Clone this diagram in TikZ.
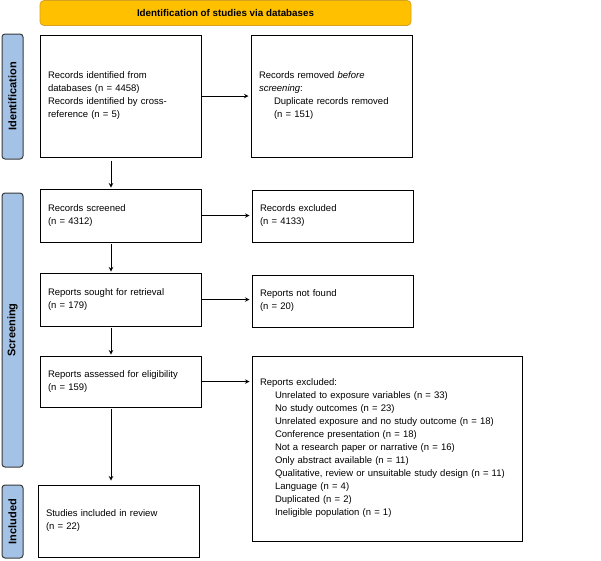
\documentclass[tikz,border=0pt]{standalone}
\usepackage{fontspec}
\setmainfont{Liberation Sans}
\usepackage{tikz}
\usetikzlibrary{arrows, positioning}
\tikzset{>=stealth}
\definecolor{bannerfill}{HTML}{FFC000}
\definecolor{bannerline}{HTML}{D6A21E}
\definecolor{phasefill}{HTML}{A4C2E6}
\definecolor{phaseline}{HTML}{3A3A3A}
\tikzset{
  flowbox/.style={draw=black, line width=1pt, fill=white, inner xsep=8pt, inner ysep=2pt,
    text width=145pt, minimum width=161pt, align=left, font=\fontsize{9.5}{13}\selectfont},
  phase/.style={draw=phaseline, fill=phasefill, rounded corners=3pt, line width=1pt,
    rotate=90, minimum height=21pt, inner sep=0pt, font=\bfseries\fontsize{11}{12}\selectfont},
  banner/.style={draw=bannerline, fill=bannerfill, rounded corners=4pt, line width=0.8pt,
    minimum width=371pt, minimum height=25pt, font=\bfseries\fontsize{9.8}{11}\selectfont},
  flowarrow/.style={->, line width=1pt}
}
\begin{document}
\begin{tikzpicture}[x=1pt, y=-1pt]
			\useasboundingbox (0,0) rectangle (601,560);
			\node[banner] (head) at (225.5,13) {Identification of studies via databases};
			% phases on the left
			\node[phase, minimum width=125pt] (idlab) at (12.5,96.5) {Identification};
			\node[phase, minimum width=274pt] (scrlab) at (12.5,330) {Screening};
			\node[phase, minimum width=73pt] (inclab) at (12.5,521.5) {Included};
			% main column
			\node[flowbox, minimum height=122pt] (ident) at (120.5,96) {Records identified from databases (n = 4458)\\Records identified by cross-reference (n = 5)};
			\node[flowbox, minimum height=53pt] (screened) at (120.5,215.5) {Records screened\\(n = 4312)};
			\node[flowbox, minimum height=53pt] (sought) at (120.5,299.5) {Reports sought for retrieval\\(n = 179)};
			\node[flowbox, minimum height=51pt] (assessed) at (120.5,381.5) {Reports assessed for eligibility\\(n = 159)};
			\node[flowbox, minimum height=72pt] (included) at (118.5,521) {Studies included in review\\(n = 22)};
			% right column
			\node[flowbox, minimum height=122pt] (removed) at (331.5,96) {Records removed \emph{before}\\\emph{screening}:\\\hspace*{15pt}Duplicate records removed\\\hspace*{15pt}(n = 151)};
			\node[flowbox, minimum height=52pt] (excluded) at (332.5,216) {Records excluded\\(n = 4133)};
			\node[flowbox, minimum height=52pt] (notfound) at (332.5,301) {Reports not found\\(n = 20)};
			\node[flowbox, minimum height=185pt, text width=254pt, minimum width=270pt] (repexcl) at (387,448.5) {Reports excluded:\\
				\hspace*{15pt}Unrelated to exposure variables (n = 33)\\
				\hspace*{15pt}No study outcomes (n = 23)\\
				\hspace*{15pt}Unrelated exposure and no study outcome (n = 18)\\
				\hspace*{15pt}Conference presentation (n = 18)\\
				\hspace*{15pt}Not a research paper or narrative (n = 16)\\
				\hspace*{15pt}Only abstract available (n = 11)\\
				\hspace*{15pt}Qualitative, review or unsuitable study design (n = 11)\\
				\hspace*{15pt}Language (n = 4)\\
				\hspace*{15pt}Duplicated (n = 2)\\
				\hspace*{15pt}Ineligible population (n = 1)};
			% arrows down
			\draw[flowarrow, shorten <=3pt, shorten >=1pt] ([xshift=-9.5pt]ident.south) -- ([xshift=-9.5pt]screened.north);
			\draw[flowarrow, shorten <=1pt, shorten >=1pt] ([xshift=-9.5pt]screened.south) -- ([xshift=-9.5pt]sought.north);
			\draw[flowarrow, shorten <=1pt, shorten >=1pt] ([xshift=-9.5pt]sought.south) -- ([xshift=-9.5pt]assessed.north);
			\draw[flowarrow, shorten <=1pt, shorten >=4pt] ([xshift=-9.5pt]assessed.south) -- ([xshift=-7.5pt]included.north);
			% arrows across
			\draw[flowarrow, shorten >=2pt] (ident.east) -- (removed.west);
			\draw[flowarrow, shorten >=2pt] (screened.east) -- (screened.east -| excluded.west);
			\draw[flowarrow, shorten >=2pt] (sought.east) -- (sought.east -| notfound.west);
			\draw[flowarrow, shorten >=2pt] (assessed.east) -- (assessed.east -| repexcl.west);
		\end{tikzpicture}
\end{document}
